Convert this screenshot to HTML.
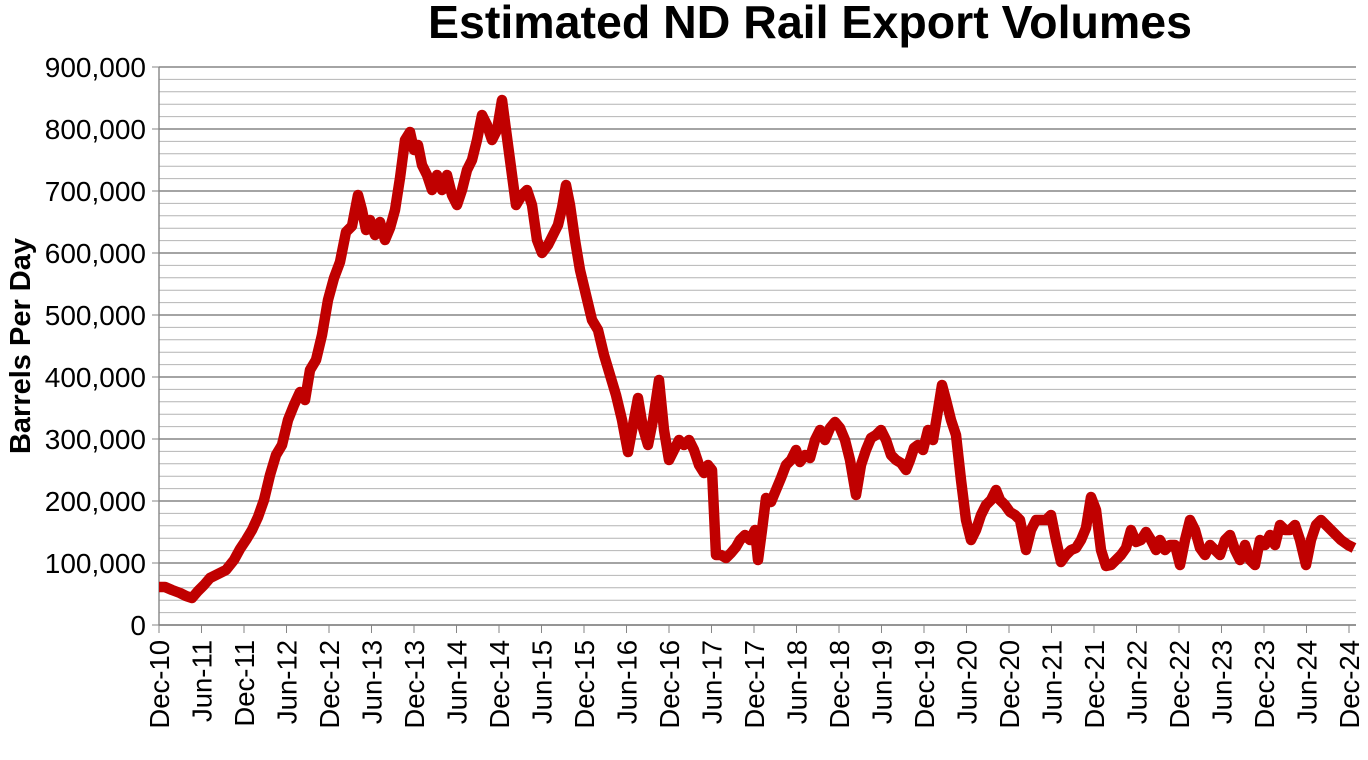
<!DOCTYPE html>
<html><head><meta charset="utf-8"><style>body{margin:0;background:#fff}</style></head><body>
<svg width="1368" height="755" xmlns="http://www.w3.org/2000/svg" font-family="Liberation Sans, Arial, sans-serif">
<rect width="1368" height="755" fill="#fff"/>
<text x="810" y="38" font-size="46.5" font-weight="bold" text-anchor="middle">Estimated ND Rail Export Volumes</text>
<g id="grid"></g>
<text transform="translate(30,346) rotate(-90)" font-size="29" font-weight="bold" text-anchor="middle">Barrels Per Day</text>
<g id="yl" font-size="28" text-anchor="end"></g>
<g id="xl" font-size="27.5" text-anchor="end"></g>
<polyline id="ln" fill="none" stroke="#c00000" stroke-width="10.5" stroke-linejoin="round"/>
</svg>
<script>
var ns="http://www.w3.org/2000/svg";
function el(t,a,p,txt){var e=document.createElementNS(ns,t);for(var k in a)e.setAttribute(k,a[k]);if(txt!=null)e.textContent=txt;document.getElementById(p).appendChild(e);}
for(var i=0;i<=45;i++){var y=625-i*12.4;var maj=i%5==0;
el('line',{x1:159,x2:1356,y1:y,y2:y,stroke:maj?'#868686':'#b4b4b4','stroke-width':maj?1.4:1},'grid');
if(maj){el('line',{x1:152,x2:159,y1:y,y2:y,stroke:'#868686'},'grid');
var v=i/5*100000;el('text',{x:146,y:y+10},'yl',v==0?'0':v.toLocaleString('en-US'));}}
el('line',{x1:159,x2:159,y1:67,y2:625,stroke:'#868686','stroke-width':1.4},'grid');
el('line',{x1:159,x2:1356,y1:625,y2:625,stroke:'#868686','stroke-width':1.4},'grid');
for(var j=0;j<=28;j++){var x=159+j*42.5;var lab=(j%2==0?'Dec-':'Jun-')+(10+Math.ceil(j/2));
el('line',{x1:x,x2:x,y1:625,y2:633,stroke:'#868686'},'grid');
el('text',{transform:'translate('+(x+10)+',640) rotate(-90)'},'xl',lab);}
var p=[159,587,165,587,172,590,180,593,186,596,192,598,198,591,204,585,210,578,218,574,226,570,234,560,240,549,246,540,252,530,258,517,264,500,270,475,276,455,282,445,288,420,294,405,300,392,305,400,310,370,316,360,322,335,328,300,334,278,340,262,346,232,352,226,358,195,362,210,366,230,370,220,375,235,380,222,385,240,390,228,395,210,400,178,405,140,410,132,414,150,418,145,422,165,427,175,432,190,437,175,442,190,447,175,452,195,457,205,462,190,467,170,472,160,477,140,482,115,487,125,492,140,497,130,502,100,506,130,510,160,516,205,522,195,527,190,532,205,537,240,542,253,548,245,553,235,558,225,562,208,566,185,570,205,575,240,580,270,586,295,592,320,598,330,604,355,610,375,616,395,622,420,628,452,633,425,638,398,643,428,648,445,653,420,659,380,664,430,669,460,674,450,679,440,684,445,689,440,694,450,699,465,704,473,708,465,712,470,716,555,721,555,726,558,731,553,736,547,740,540,745,535,750,540,755,530,758,560,762,530,766,498,771,502,776,490,781,478,786,465,791,460,796,450,800,462,805,455,810,458,815,440,820,430,825,440,830,428,835,422,840,428,845,440,850,460,856,495,861,465,866,450,871,438,876,435,881,430,886,440,891,455,896,460,901,463,906,470,910,460,914,448,918,445,923,450,928,430,933,440,938,410,942,385,946,400,951,420,956,435,961,480,966,520,971,540,976,530,981,515,986,505,991,500,996,490,1000,500,1005,505,1010,512,1015,515,1020,520,1026,550,1031,530,1036,520,1041,520,1046,520,1051,515,1056,540,1061,562,1066,555,1071,550,1076,548,1081,540,1086,528,1091,497,1096,510,1101,550,1106,566,1111,565,1116,560,1121,555,1126,548,1131,530,1136,542,1141,540,1146,532,1151,540,1156,550,1160,540,1165,550,1170,545,1175,545,1180,565,1185,540,1190,520,1195,530,1200,548,1205,555,1210,545,1215,550,1220,555,1225,540,1230,535,1235,550,1240,560,1245,545,1250,560,1255,565,1260,540,1265,545,1270,535,1275,545,1280,525,1285,530,1290,530,1295,525,1300,540,1306,565,1311,540,1316,525,1321,520,1326,525,1331,530,1336,535,1341,540,1348,545,1354,548];
var s='';for(var k=0;k<p.length;k+=2)s+=p[k]+','+p[k+1]+' ';
document.getElementById('ln').setAttribute('points',s);
</script>
</body></html>
